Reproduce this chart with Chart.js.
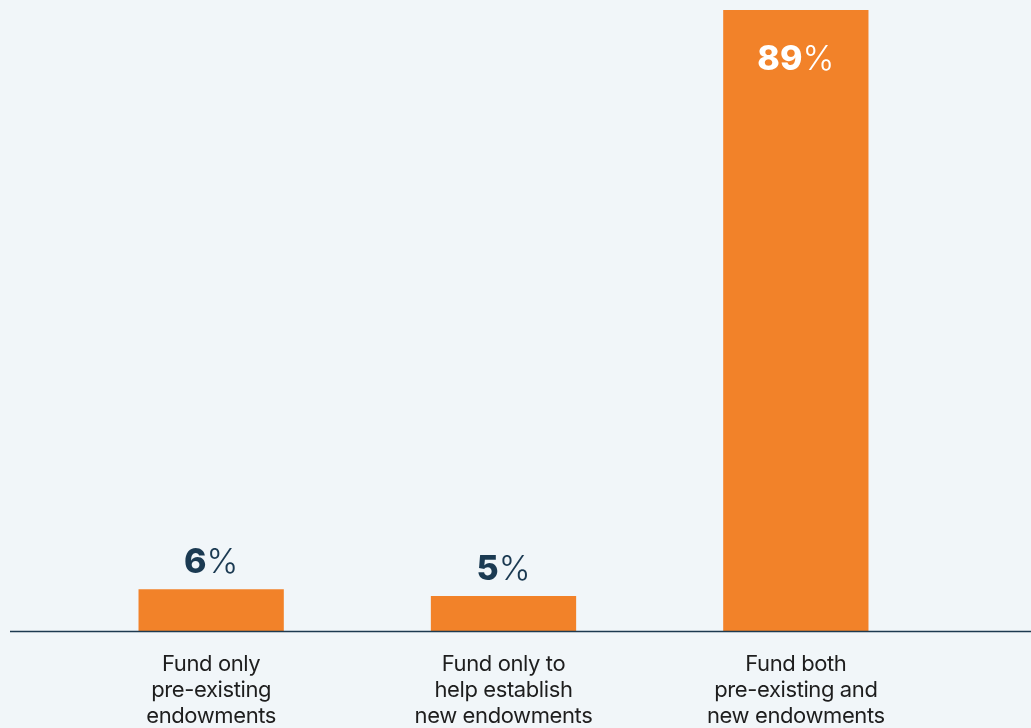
<!DOCTYPE html>
<html>
<head>
<meta charset="utf-8">
<script src="https://cdn.jsdelivr.net/npm/chart.js@4"></script>
<style>
  html, body { margin: 0; padding: 0; background: #f1f6f9; }
  #wrap { width: 1031px; height: 728px; }
</style>
</head>
<body>
<div id="wrap"><canvas id="fundChart" width="1031" height="728"></canvas></div>
<script>
const categories = [
    ['Fund only', 'pre-existing', 'endowments'],
    ['Fund only to', 'help establish', 'new endowments'],
    ['Fund both', 'pre-existing and', 'new endowments']
];
const shares = [6, 5, 89];

const bgPlugin = {
    id: 'bg',
    beforeDraw(chart) {
        const c = chart.ctx;
        c.fillStyle = '#f1f6f9';
        c.fillRect(0, 0, chart.width, chart.height);
        // tighter tracking for the category labels
        c.letterSpacing = '-0.4px';
    }
};

const baselinePlugin = {
    id: 'baseline',
    afterDatasetsDraw(chart) {
        const c = chart.ctx;
        const y = Math.round(chart.scales.y.getPixelForValue(0)) + 0.5;
        c.save();
        c.strokeStyle = '#1d3a50';
        c.lineWidth = 1.5;
        c.beginPath();
        c.moveTo(10, y);
        c.lineTo(chart.width, y);
        c.stroke();
        c.restore();
    }
};

const valueLabels = {
    id: 'valueLabels',
    afterDatasetsDraw(chart) {
        const c = chart.ctx;
        const meta = chart.getDatasetMeta(0);
        c.save();
        c.letterSpacing = '0px';
        c.textBaseline = 'alphabetic';
        meta.data.forEach((bar, i) => {
            const num = String(shares[i]);
            const boldFont = '800 34px Inter';
            const lightFont = '300 34px Inter';
            c.font = boldFont;
            const w1 = c.measureText(num).width;
            c.font = lightFont;
            const w2 = c.measureText('%').width;
            const startX = bar.x - (w1 + w2) / 2;
            let y, color;
            if (shares[i] > 50) {
                y = bar.y + 60;
                color = '#ffffff';
            } else {
                y = bar.y - 16;
                color = '#1b3a52';
            }
            c.fillStyle = color;
            c.textAlign = 'left';
            c.font = boldFont;
            c.fillText(num, startX, y);
            c.font = lightFont;
            c.fillText('%', startX + w1, y);
        });
        c.restore();
    }
};

const ctx = document.getElementById('fundChart').getContext('2d');
const fundChart = new Chart(ctx, {
    type: 'bar',
    data: {
        labels: categories,
        datasets: [{
            data: shares,
            backgroundColor: '#f28229',
            borderWidth: 0,
            barPercentage: 1,
            categoryPercentage: 0.497
        }]
    },
    options: {
        responsive: false,
        animation: false,
        layout: { padding: { left: 65, right: 89, top: 10, bottom: 0 } },
        plugins: {
            legend: { display: false },
            tooltip: { enabled: false }
        },
        scales: {
            y: {
                display: false,
                min: 0,
                max: 89
            },
            x: {
                grid: { display: false },
                border: { display: false },
                ticks: {
                    color: '#1e1e1e',
                    font: { family: 'Inter', size: 22, lineHeight: 1.18 },
                    padding: 12,
                    maxRotation: 0,
                    autoSkip: false
                },
                afterFit(scale) { scale.height = 97; }
            }
        }
    },
    plugins: [bgPlugin, baselinePlugin, valueLabels]
});
</script>
</body>
</html>
